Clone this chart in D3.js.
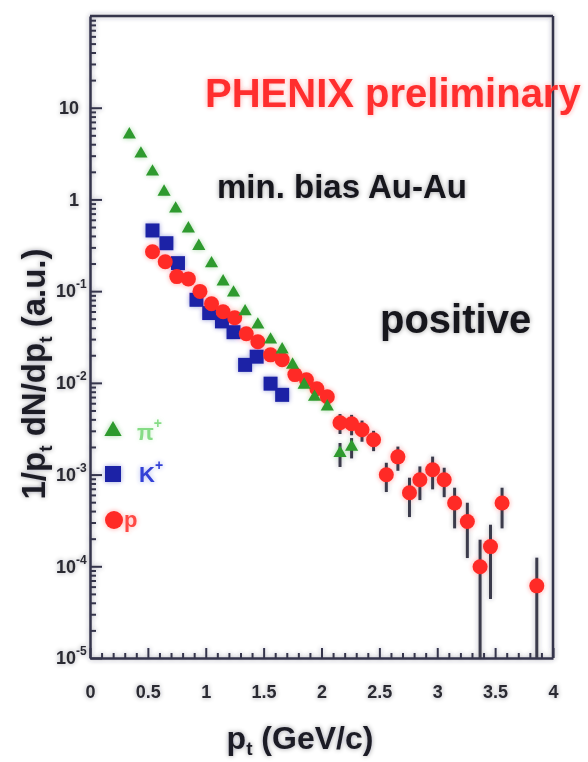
<!DOCTYPE html>
<html>
<head>
<meta charset="utf-8">
<script src="https://cdn.jsdelivr.net/npm/d3@7"></script>
<style>
  html, body { margin: 0; padding: 0; background: #fff; }
  svg { display: block; }
  text { font-family: "Liberation Sans", Arial, Helvetica, sans-serif; font-weight: bold; }
</style>
</head>
<body>
<div id="chart"></div>
<script>
// pi+ spectrum (pT in GeV/c, yield in a.u.)
const piPt  = [0.34, 0.44, 0.54, 0.64, 0.74, 0.85, 0.94, 1.05, 1.15, 1.24, 1.34, 1.45, 1.56, 1.66, 1.75, 1.85, 1.94, 2.05, 2.16, 2.26];
const piY   = [5.08, 3.15, 2.00, 1.21, 0.79, 0.48, 0.31, 0.20, 0.127, 0.096, 0.060, 0.043, 0.0295, 0.023, 0.0157, 0.0095, 0.0070, 0.0055, 0.00171, 0.0020];
const piErr = [0, 0, 0, 0, 0, 0, 0, 0, 0, 0, 0, 0, 0, 0, 0, 0, 0, 0, 0.0005, 0.0005];

// K+ spectrum
const kPt = [0.54, 0.66, 0.76, 0.92, 1.03, 1.14, 1.24, 1.34, 1.44, 1.56, 1.66];
const kY  = [0.459, 0.333, 0.202, 0.0805, 0.0577, 0.0468, 0.0357, 0.0157, 0.0193, 0.0098, 0.0074];

// proton spectrum
const pPt  = [0.54, 0.65, 0.75, 0.85, 0.95, 1.05, 1.15, 1.25, 1.35, 1.45, 1.56, 1.66, 1.77, 1.87, 1.96, 2.05,
              2.16, 2.26, 2.35, 2.45, 2.56, 2.66, 2.76, 2.85, 2.96, 3.06, 3.15, 3.26, 3.37, 3.46, 3.56, 3.86];
const pY   = [0.269, 0.209, 0.144, 0.136, 0.0993, 0.0729, 0.0596, 0.0513, 0.0343, 0.0281, 0.0202, 0.0179, 0.0123, 0.0108, 0.00863, 0.00705,
              0.00367, 0.00358, 0.00308, 0.00240, 0.000995, 0.00156, 0.000634, 0.000877, 0.00113, 0.000877, 0.000489, 0.000308, 0.0000989, 0.000164, 0.000489, 0.0000612];
const pErr = [0, 0, 0, 0, 0, 0, 0, 0, 0, 0, 0, 0, 0, 0, 0, 0.0006,
              0.0009, 0.0009, 0.0008, 0.0006, 0.00035, 0.00046, 0.00029, 0.00035, 0.00044, 0.00031, 0.00023, 0.000185, 0.000096, 0.00012, 0.00023, 0.000063];

// axis tick labels
const xTickValues = [0, 0.5, 1, 1.5, 2, 2.5, 3, 3.5, 4];
const xTickLabels = ["0", "0.5", "1", "1.5", "2", "2.5", "3", "3.5", "4"];
const yTickValues = [1e-5, 1e-4, 1e-3, 1e-2, 1e-1, 1, 10];
const yTickExp    = [-5, -4, -3, -2, -1, 0, 1];

const W = 588, H = 762;
const AXIS = "#34344c";
const GREEN = "#2d9a2d", BLUE = "#1c22a6", RED = "#ff2b26";

const x = d3.scaleLinear().domain([0, 4]).range([90, 553]);
const y = d3.scaleLog().domain([1e-5, 100]).range([658, 16]);

const svg = d3.select("#chart").append("svg").attr("width", W).attr("height", H);

// soft halo around all drawn elements
const defs = svg.append("defs");
const f = defs.append("filter").attr("id", "halo")
  .attr("x", "-10%").attr("y", "-10%").attr("width", "120%").attr("height", "120%");
f.append("feGaussianBlur").attr("in", "SourceGraphic").attr("stdDeviation", 2.6).attr("result", "b");
f.append("feComponentTransfer").attr("in", "b").attr("result", "c")
  .append("feFuncA").attr("type", "linear").attr("slope", 0.4);
const m = f.append("feMerge");
m.append("feMergeNode").attr("in", "c");
m.append("feMergeNode").attr("in", "SourceGraphic");

defs.append("clipPath").attr("id", "plotclip").append("rect")
  .attr("x", x(0)).attr("y", y(100)).attr("width", x(4) - x(0)).attr("height", y(1e-5) - y(100));

const root = svg.append("g").attr("filter", "url(#halo)");

// ---- frame ----
root.append("line").attr("x1", x(0)).attr("x2", x(4)).attr("y1", y(100)).attr("y2", y(100))
  .attr("stroke", AXIS).attr("stroke-width", 2.5);
root.append("line").attr("x1", x(4)).attr("x2", x(4)).attr("y1", y(100)).attr("y2", y(1e-5))
  .attr("stroke", AXIS).attr("stroke-width", 2.5);

// ---- x axis ----
const xMinor = d3.range(1, 40).map(i => i / 10).filter(v => Math.abs(v * 2 - Math.round(v * 2)) > 1e-6);
root.append("g").attr("transform", `translate(0,${y(1e-5)})`)
  .call(d3.axisBottom(x).tickValues(xMinor).tickSize(-5).tickSizeOuter(0).tickFormat(""))
  .call(g => g.select(".domain").remove())
  .call(g => g.selectAll("line").attr("stroke", AXIS).attr("stroke-width", 2));
const gx = root.append("g").attr("transform", `translate(0,${y(1e-5)})`)
  .call(d3.axisBottom(x).tickValues(xTickValues).tickSize(-10).tickSizeOuter(0).tickPadding(27)
    .tickFormat((d, i) => xTickLabels[i]));
gx.select(".domain").attr("stroke", AXIS).attr("stroke-width", 2.5);
gx.selectAll("line").attr("stroke", AXIS).attr("stroke-width", 2);
gx.selectAll("text").attr("font-size", 18).attr("fill", "#2a2a33")
  .style("font-family", "'Liberation Sans', Arial, sans-serif").style("font-weight", "bold");

// ---- y axis ----
const yMinor = [];
[1e-5, 1e-4, 1e-3, 1e-2, 1e-1, 1, 10].forEach(d => { for (let k = 2; k <= 9; k++) yMinor.push(d * k); });
root.append("g").attr("transform", `translate(${x(0)},0)`)
  .call(d3.axisLeft(y).tickValues(yMinor).tickSize(-6).tickSizeOuter(0).tickFormat(""))
  .call(g => g.select(".domain").remove())
  .call(g => g.selectAll("line").attr("stroke", AXIS).attr("stroke-width", 2));
const gy = root.append("g").attr("transform", `translate(${x(0)},0)`)
  .call(d3.axisLeft(y).tickValues(yTickValues).tickSize(-12).tickSizeOuter(0).tickPadding(11).tickFormat(""));
gy.select(".domain").attr("stroke", AXIS).attr("stroke-width", 2.5);
gy.selectAll("line").attr("stroke", AXIS).attr("stroke-width", 2);
gy.selectAll(".tick").each(function (d, i) {
  const e = yTickExp[i];
  const t = d3.select(this).select("text")
    .attr("font-size", 18).attr("fill", "#2a2a33")
    .style("font-family", "'Liberation Sans', Arial, sans-serif").style("font-weight", "bold");
  if (e === 0) { t.text("1"); }
  else if (e === 1) { t.text("10"); }
  else {
    t.attr("text-anchor", "start").attr("x", -34);
    t.append("tspan").text("10");
    t.append("tspan").attr("font-size", 12).attr("dy", -9).text(String(e));
  }
});

// ---- axis titles ----
const xt = root.append("text").attr("x", 300).attr("y", 749).attr("text-anchor", "middle")
  .attr("font-size", 32).attr("fill", "#1e1e26");
xt.append("tspan").text("p");
xt.append("tspan").attr("font-size", 19).attr("dy", 6).text("t");
xt.append("tspan").attr("dy", -6).text(" (GeV/c)");

const yt = root.append("text").attr("transform", "translate(45,374) rotate(-90)").attr("text-anchor", "middle")
  .attr("font-size", 33).attr("fill", "#1e1e26");
yt.append("tspan").text("1/p");
yt.append("tspan").attr("font-size", 19).attr("dy", 7).text("t");
yt.append("tspan").attr("dy", -7).text(" dN/dp");
yt.append("tspan").attr("font-size", 19).attr("dy", 7).text("t");
yt.append("tspan").attr("dy", -7).text(" (a.u.)");

// ---- data ----
const plot = root.append("g").attr("clip-path", "url(#plotclip)");
const lowY = v => (v > 0 ? y(v) : y(1e-5) + 10);

// error bars
const bars = [];
piPt.forEach((p, i) => { if (piErr[i] > 0) bars.push([p, piY[i], piErr[i]]); });
pPt.forEach((p, i) => { if (pErr[i] > 0) bars.push([p, pY[i], pErr[i]]); });
plot.append("g").selectAll("line").data(bars).join("line")
  .attr("x1", d => x(d[0])).attr("x2", d => x(d[0]))
  .attr("y1", d => y(d[1] + d[2])).attr("y2", d => lowY(d[1] - d[2]))
  .attr("stroke", "#3a3a4c").attr("stroke-width", 3);

// K+ squares
const sq = 14;
plot.append("g").selectAll("rect").data(kPt.map((p, i) => [p, kY[i]])).join("rect")
  .attr("x", d => x(d[0]) - sq / 2).attr("y", d => y(d[1]) - sq / 2)
  .attr("width", sq).attr("height", sq).attr("fill", BLUE);

// protons
plot.append("g").selectAll("circle").data(pPt.map((p, i) => [p, pY[i]])).join("circle")
  .attr("cx", d => x(d[0])).attr("cy", d => y(d[1])).attr("r", 7.5).attr("fill", RED);

// pi+ triangles
const tri = d3.symbol().type(d3.symbolTriangle).size(75);
plot.append("g").selectAll("path").data(piPt.map((p, i) => [p, piY[i]])).join("path")
  .attr("d", tri).attr("transform", d => `translate(${x(d[0])},${y(d[1])})`).attr("fill", GREEN);

// ---- legend ----
const lg = root.append("g");
lg.append("path").attr("d", d3.symbol().type(d3.symbolTriangle).size(130)).attr("transform", "translate(113,431)").attr("fill", GREEN);
const t1 = lg.append("text").attr("x", 137).attr("y", 440).attr("font-size", 22).attr("fill", "#86dc86");
t1.append("tspan").text("\u03c0");
t1.append("tspan").attr("font-size", 14).attr("dy", -12).text("+");
lg.append("rect").attr("x", 105).attr("y", 466).attr("width", 16).attr("height", 16).attr("fill", BLUE);
const t2 = lg.append("text").attr("x", 139).attr("y", 482).attr("font-size", 22).attr("fill", "#3340d6");
t2.append("tspan").text("K");
t2.append("tspan").attr("font-size", 14).attr("dy", -12).text("+");
lg.append("circle").attr("cx", 114).attr("cy", 520).attr("r", 9).attr("fill", RED);
lg.append("text").attr("x", 124).attr("y", 527).attr("font-size", 22).attr("fill", "#ff4a44").text("p");

// ---- annotations ----
root.append("text").attr("x", 205).attr("y", 107).attr("font-size", 40).attr("fill", "#ff2f2f").text("PHENIX preliminary");
root.append("text").attr("x", 217).attr("y", 198).attr("font-size", 33).attr("fill", "#17171d").text("min. bias Au-Au");
root.append("text").attr("x", 380).attr("y", 333).attr("font-size", 40).attr("fill", "#17171d").text("positive");
</script>
</body>
</html>
